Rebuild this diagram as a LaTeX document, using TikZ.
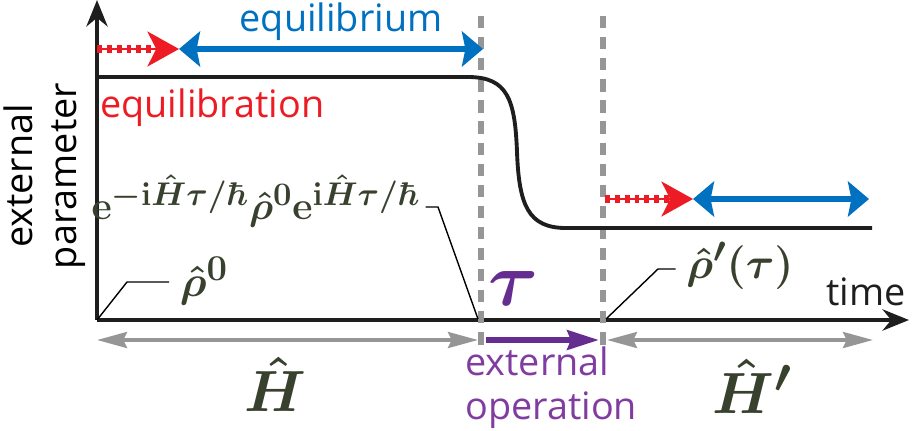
\documentclass[tikz,border=0pt]{standalone}
\usepackage{amsmath,bm}
\usepackage[no-math]{fontspec}
\setmainfont{Open Sans}
\usetikzlibrary{arrows.meta}

\definecolor{eqred}{RGB}{237,28,36}
\definecolor{eqblue}{RGB}{0,112,192}
\definecolor{oppurple}{RGB}{102,45,145}
\definecolor{txtpurple}{RGB}{128,60,160}
\definecolor{hamgray}{RGB}{150,150,150}
\definecolor{mathdark}{RGB}{55,65,45}
\definecolor{axisblack}{RGB}{30,30,30}

\tikzset{
  axisline/.style={line width=2.6pt, draw=axisblack, -{Stealth[length=15pt,width=12pt]}},
  sanslbl/.style={font=\fontsize{21.5}{25}\selectfont, inner sep=0pt},
  mathlbl/.style={text=mathdark, inner sep=0pt, font=\Huge},
  leader/.style={line width=0.8pt, draw=black},
  cutline/.style={line width=3.4pt, draw=hamgray, dash pattern=on 7pt off 5pt},
  relaxline/.style={line width=1.1pt, draw=eqred, -{Stealth[length=18pt,width=20pt,inset=5pt]}},
  relaxdash/.style={line width=4.5pt, draw=eqred, dash pattern=on 2.8pt off 2.8pt},
  eqarrow/.style={line width=3.4pt, draw=eqblue, {Stealth[length=12pt,width=20pt,inset=2pt]}-{Stealth[length=12pt,width=20pt,inset=2pt]}},
  hamarrow/.style={line width=2.3pt, draw=hamgray, {Stealth[length=17pt,width=9pt,inset=2pt]}-{Stealth[length=17pt,width=9pt,inset=2pt]}},
  oparrow/.style={line width=3.4pt, draw=oppurple, -{Stealth[length=18pt,width=11pt,inset=2pt]}}
}

\begin{document}
\begin{tikzpicture}[x=0.02cm,y=-0.02cm]
    \useasboundingbox (0,0) rectangle (916,430);
    % Axes
    \coordinate (origin) at (97,320);
    \coordinate (ytop) at (97,0);
    \coordinate (xend) at (909,320);
    \draw[axisline] (origin) -- (ytop);
    \draw[axisline] (origin) -- (xend);
    \node[sanslbl, rotate=90, align=center] (ylabel) at (45,176) {external\\parameter};
    \node[sanslbl, text=axisblack] (timelbl) at (866,292) {time};
    % Cut lines
    \coordinate (cutA) at (481,16);
    \coordinate (cutAb) at (481,345);
    \coordinate (cutB) at (603,16);
    \coordinate (cutBb) at (603,345);
    \draw[cutline] (cutA) -- (cutAb);
    \draw[cutline] (cutB) -- (cutBb);
    % Parameter curve
    \coordinate (pstart) at (97,77);
    \coordinate (pknee) at (468,77);
    \coordinate (pmid) at (517,152);
    \coordinate (pfoot) at (566,228);
    \coordinate (pend) at (872,228);
    \draw[line width=2.2pt, draw=axisblack] (pstart) -- (pknee)
        .. controls (508,77) and (515,100) .. (pmid)
        .. controls (519,205) and (528,228) .. (pfoot) -- (pend);
    % Equilibration and equilibrium, before
    \coordinate (relaxA) at (97,49);
    \coordinate (relaxAtip) at (179,49);
    \coordinate (eqAend) at (483,49);
    \draw[relaxline] (relaxA) -- (relaxAtip);
    \draw[relaxdash] (relaxA) -- (160,49);
    \draw[eqarrow] (relaxAtip) -- (eqAend);
    \node[sanslbl, text=eqblue] (eqlbl) at (341,22) {equilibrium};
    \node[sanslbl, text=eqred, anchor=west] (relaxlbl) at (100,108) {equilibration};
    % Equilibration and equilibrium, after
    \coordinate (relaxB) at (605,199);
    \coordinate (relaxBtip) at (693,199);
    \coordinate (eqBend) at (869,199);
    \draw[relaxline] (relaxB) -- (relaxBtip);
    \draw[relaxdash] (relaxB) -- (674,199);
    \draw[eqarrow] (relaxBtip) -- (eqBend);
    % States
    \node[mathlbl, scale=0.9] (evolved) at (256,201)
        {$\mathbf{e}^{\boldsymbol{-\mathrm{i}\hat{H}\tau/\hbar}}\boldsymbol{\hat{\rho}^0}\mathbf{e}^{\boldsymbol{\mathrm{i}\hat{H}\tau/\hbar}}$};
    \coordinate (evbend) at (438,207);
    \coordinate (tau) at (478,319);
    \draw[leader] (evolved.east |- evbend) ++(5,0) -- (evbend) -- (tau);
    \node[mathlbl] (rho0) at (204,281) {$\boldsymbol{\hat{\rho}^0}$};
    \coordinate (rho0bend) at (127,282);
    \draw[leader] (origin) -- (rho0bend) -- ([xshift=-6pt]rho0.west |- rho0bend);
    \node[mathlbl] (rhotau) at (740,266) {$\boldsymbol{\hat{\rho}'(\tau)}$};
    \coordinate (tauB) at (606,319);
    \coordinate (rhotaubend) at (658,269);
    \draw[leader] (tauB) -- (rhotaubend) -- ([xshift=-6pt]rhotau.west |- rhotaubend);
    \node[mathlbl, text=oppurple, scale=1.75] (taulbl) at (514,288) {$\boldsymbol{\tau}$};
    % Hamiltonians
    \coordinate (hamAl) at (97,340);
    \coordinate (hamAr) at (478,340);
    \coordinate (hamBl) at (607,340);
    \coordinate (hamBr) at (873,340);
    \draw[hamarrow] (hamAl) -- (hamAr);
    \draw[hamarrow] (hamBl) -- (hamBr);
    \node[mathlbl, scale=1.33] (ham) at (275,384) {$\boldsymbol{\hat{H}}$};
    \node[mathlbl, scale=1.33] (hamp) at (752,386) {$\boldsymbol{\hat{H}'}$};
    % External operation
    \coordinate (opl) at (486,340);
    \coordinate (opr) at (599,340);
    \draw[oparrow] (opl) -- (opr);
    \node[sanslbl, text=txtpurple, align=left, anchor=west] (oplbl) at (465,388) {external\\operation};
\end{tikzpicture}
\end{document}
